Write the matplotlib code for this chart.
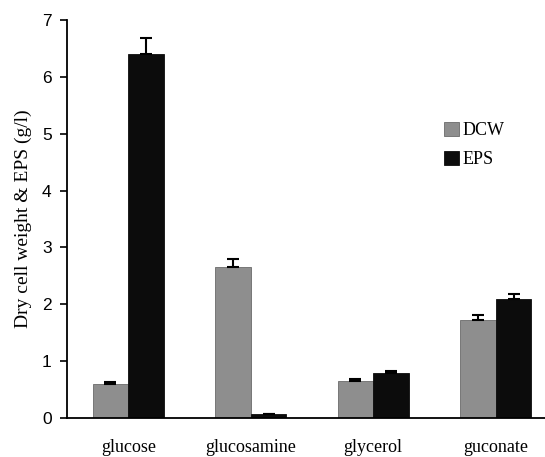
import matplotlib.pyplot as plt
import numpy as np

# data
substrates = ['glucose', 'glucosamine', 'glycerol', 'guconate']
dcw = [0.60, 2.65, 0.65, 1.72]
dcw_err = [0.03, 0.15, 0.03, 0.10]
eps = [6.40, 0.07, 0.80, 2.10]
eps_err = [0.28, 0.0, 0.02, 0.08]

plt.rcParams['font.family'] = ['Liberation Sans', 'DejaVu Sans']

fig = plt.figure(figsize=(5.45, 4.57), dpi=100)
ax = fig.add_axes([67 / 545, 39 / 457, 490 / 545, 398 / 457])

x = np.arange(len(substrates))
width = 0.29

ax.bar(x - width / 2, dcw, width, color='#8e8e8e', edgecolor='#6a6a6a', linewidth=0.6,
       yerr=[np.zeros(len(dcw)), dcw_err], capsize=4, error_kw=dict(ecolor='black', lw=1.5, capthick=1.5),
       label='DCW')
ax.bar(x + width / 2, eps, width, color='#0c0c0c', edgecolor='#0c0c0c', linewidth=0.6,
       yerr=[np.zeros(len(eps)), eps_err], capsize=4, error_kw=dict(ecolor='black', lw=1.5, capthick=1.5),
       label='EPS')

ax.set_xlim(-0.5, 3.5)
ax.set_ylim(0, 7)
ax.set_yticks(range(0, 8))
ax.tick_params(axis='y', direction='out', length=5, width=1.2, labelsize=12.5, pad=6)
ax.set_xticks(x)
ax.set_xticklabels(substrates, family='Liberation Serif', fontsize=13)
ax.tick_params(axis='x', length=0, pad=15)

for s in ['top', 'right']:
    ax.spines[s].set_visible(False)
ax.spines['left'].set_linewidth(1.3)
ax.spines['bottom'].set_linewidth(1.3)

ax.set_ylabel('Dry cell weight & EPS (g/l)', family='Liberation Serif', fontsize=14, labelpad=7)

ax.legend(loc='upper left', bbox_to_anchor=(428 / 545, 1 - 106 / 457), bbox_transform=fig.transFigure,
          frameon=False, prop={'family': 'Liberation Serif', 'size': 13},
          handlelength=0.8, handleheight=0.8, handletextpad=0.2, labelspacing=0.65)

fig.savefig('out.png', dpi=100)
